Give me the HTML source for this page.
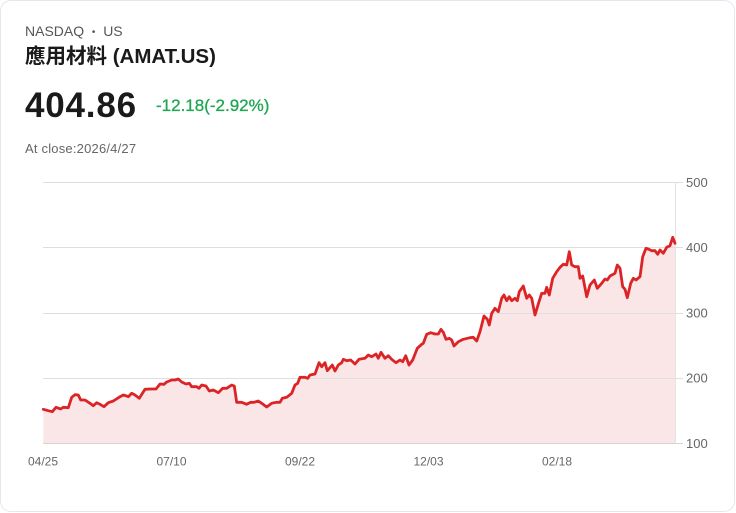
<!DOCTYPE html>
<html><head><meta charset="utf-8">
<style>
html,body{margin:0;padding:0;background:#fff;}
body{width:736px;height:513px;position:relative;overflow:hidden;font-family:"Liberation Sans","Noto Sans CJK TC",sans-serif;}
.card{position:absolute;left:0;top:0;width:733px;height:510px;border:1px solid #e3e8ef;border-radius:11px;background:#fff;}
.t{position:absolute;white-space:nowrap;line-height:1;}
</style></head><body>
<div class="card"></div>
<div class="t" style="left:25px;top:24px;font-size:14px;color:#555;">NASDAQ&nbsp; <span style="font-size:10px;position:relative;top:-1px;">•</span> &nbsp;US</div>
<div class="t" style="left:25px;top:47px;font-size:20.5px;font-weight:bold;color:#1a1a1a;">應用材料 (AMAT.US)</div>
<div class="t" style="left:25px;top:88px;font-size:35px;font-weight:bold;color:#1a1a1a;letter-spacing:0.8px;">404.86</div>
<div class="t" style="left:156px;top:97px;font-size:17px;color:#1ea651;-webkit-text-stroke:0.3px #1ea651;">-12.18(-2.92%)</div>
<div class="t" style="left:25px;top:142px;font-size:13px;color:#666;letter-spacing:0.2px;">At close:2026/4/27</div>
<svg style="position:absolute;left:0;top:0" width="736" height="513" viewBox="0 0 736 513">
<path d="M43.3,409.3 L48.3,410.7 L52.3,411.7 L56,407.3 L60.7,409 L63.3,407.3 L68.3,407.7 L71.7,397.3 L75,394.7 L78.3,395 L80.7,400 L85,400 L90,403.3 L93.3,405.7 L96.7,402.7 L100,404.3 L104,406.7 L108.3,402.7 L113.3,401 L120,396.7 L123.3,395 L126.7,396 L128.3,396.7 L131.7,393.3 L135,395 L139.3,398.3 L145,389.3 L150,389 L156,389 L160,384 L164,384.3 L166.7,382 L171.7,380 L175,380 L178.3,379 L181.7,382 L186,384 L189.3,383.3 L191.7,386.7 L196.7,386.7 L199,388.3 L201.7,385 L206,386 L209.3,391 L213.3,390 L218.3,392.7 L222.7,388.3 L226.7,388.3 L231.7,385 L234.3,386 L236.7,402.3 L241.7,402.3 L246.7,404.3 L250.7,402.3 L254,402.3 L258.3,401 L261.7,403.3 L266.7,407 L271.7,403.3 L276.7,402.3 L280,402.3 L282.3,398.3 L286.7,397.3 L291.7,393.3 L295,385 L297.7,383.3 L300,377.3 L305,377.3 L307.7,378.3 L310,375 L315,374 L319,362.7 L321.7,366.7 L325,362.7 L327.3,370.7 L332.3,365 L335,371 L338.3,365 L341.7,362.7 L343.3,359.3 L346.7,360.7 L350.7,360 L355,364 L359,359.3 L365,358.3 L368.3,355 L371.7,356.7 L376,354 L378.3,358.3 L381,352.3 L385,358.3 L388.3,355.7 L391.7,359.3 L396,362.7 L400,360 L402.7,361.7 L405.7,355.7 L409,365 L412.7,360 L417.3,348.3 L421.7,344.3 L423.3,343.3 L426.7,334.3 L430.7,332.7 L435,334 L438.3,334 L441,329.3 L443.3,332.3 L446,339.3 L449.3,338.3 L451.7,340 L454,346 L458.3,341.7 L463.3,339.3 L470,337.7 L473.3,337.3 L476.7,341 L480,331.7 L484,316 L487.3,319.3 L489.3,325 L491.7,313.3 L495,308.3 L498.3,311.7 L501.7,298.3 L504,295 L506.7,300.7 L509.3,296.7 L511.7,300.7 L515,298.3 L517.3,300.7 L519.3,291.7 L523.3,286 L526.7,298.3 L529.3,295 L531.7,298.3 L535,315 L539,301.7 L541.7,293.3 L545,293.3 L546.7,287.3 L549.3,295 L552.7,278.3 L556.7,271.7 L560,267.3 L563.3,264.3 L566.7,265 L569.3,251.7 L571.7,265 L575,266.7 L578.3,266.7 L580,278.3 L582.7,276 L586.7,296.7 L590,285 L594.3,280 L597.3,288.3 L601.7,283.3 L605,279 L607.3,280 L610,276 L615,273.3 L617.3,265 L620,268.3 L622.7,286.7 L625,289.3 L627.3,297.7 L630.7,283.3 L633.3,278.3 L636,280 L640,276.7 L642.7,256.7 L646,248.3 L648.3,249 L651.7,250.7 L655,250.7 L657.7,254.3 L660,250 L663.3,253.3 L666.7,247.3 L670,245.7 L672.7,237.3 L675,243.3 L675,443.5 L43.3,443.5 Z" fill="#fae6e6" stroke="none"/>
<g stroke="#dedede" stroke-width="1">
<line x1="43" y1="182.5" x2="683" y2="182.5"/>
<line x1="43" y1="247.5" x2="683" y2="247.5"/>
<line x1="43" y1="313.5" x2="683" y2="313.5"/>
<line x1="43" y1="378.5" x2="683" y2="378.5"/>
<line x1="43" y1="443.5" x2="683" y2="443.5" stroke="#d4d4d4"/>
<line x1="675.5" y1="182" x2="675.5" y2="443.5" stroke="#e4e4e4"/>
</g>
<path d="M43.3,409.3 L48.3,410.7 L52.3,411.7 L56,407.3 L60.7,409 L63.3,407.3 L68.3,407.7 L71.7,397.3 L75,394.7 L78.3,395 L80.7,400 L85,400 L90,403.3 L93.3,405.7 L96.7,402.7 L100,404.3 L104,406.7 L108.3,402.7 L113.3,401 L120,396.7 L123.3,395 L126.7,396 L128.3,396.7 L131.7,393.3 L135,395 L139.3,398.3 L145,389.3 L150,389 L156,389 L160,384 L164,384.3 L166.7,382 L171.7,380 L175,380 L178.3,379 L181.7,382 L186,384 L189.3,383.3 L191.7,386.7 L196.7,386.7 L199,388.3 L201.7,385 L206,386 L209.3,391 L213.3,390 L218.3,392.7 L222.7,388.3 L226.7,388.3 L231.7,385 L234.3,386 L236.7,402.3 L241.7,402.3 L246.7,404.3 L250.7,402.3 L254,402.3 L258.3,401 L261.7,403.3 L266.7,407 L271.7,403.3 L276.7,402.3 L280,402.3 L282.3,398.3 L286.7,397.3 L291.7,393.3 L295,385 L297.7,383.3 L300,377.3 L305,377.3 L307.7,378.3 L310,375 L315,374 L319,362.7 L321.7,366.7 L325,362.7 L327.3,370.7 L332.3,365 L335,371 L338.3,365 L341.7,362.7 L343.3,359.3 L346.7,360.7 L350.7,360 L355,364 L359,359.3 L365,358.3 L368.3,355 L371.7,356.7 L376,354 L378.3,358.3 L381,352.3 L385,358.3 L388.3,355.7 L391.7,359.3 L396,362.7 L400,360 L402.7,361.7 L405.7,355.7 L409,365 L412.7,360 L417.3,348.3 L421.7,344.3 L423.3,343.3 L426.7,334.3 L430.7,332.7 L435,334 L438.3,334 L441,329.3 L443.3,332.3 L446,339.3 L449.3,338.3 L451.7,340 L454,346 L458.3,341.7 L463.3,339.3 L470,337.7 L473.3,337.3 L476.7,341 L480,331.7 L484,316 L487.3,319.3 L489.3,325 L491.7,313.3 L495,308.3 L498.3,311.7 L501.7,298.3 L504,295 L506.7,300.7 L509.3,296.7 L511.7,300.7 L515,298.3 L517.3,300.7 L519.3,291.7 L523.3,286 L526.7,298.3 L529.3,295 L531.7,298.3 L535,315 L539,301.7 L541.7,293.3 L545,293.3 L546.7,287.3 L549.3,295 L552.7,278.3 L556.7,271.7 L560,267.3 L563.3,264.3 L566.7,265 L569.3,251.7 L571.7,265 L575,266.7 L578.3,266.7 L580,278.3 L582.7,276 L586.7,296.7 L590,285 L594.3,280 L597.3,288.3 L601.7,283.3 L605,279 L607.3,280 L610,276 L615,273.3 L617.3,265 L620,268.3 L622.7,286.7 L625,289.3 L627.3,297.7 L630.7,283.3 L633.3,278.3 L636,280 L640,276.7 L642.7,256.7 L646,248.3 L648.3,249 L651.7,250.7 L655,250.7 L657.7,254.3 L660,250 L663.3,253.3 L666.7,247.3 L670,245.7 L672.7,237.3 L675,243.3" fill="none" stroke="#dc2426" stroke-width="2.8" stroke-linejoin="round" stroke-linecap="round"/>
<g font-family="Liberation Sans, sans-serif" font-size="13" fill="#666">
<text x="686" y="187">500</text>
<text x="686" y="252">400</text>
<text x="686" y="317.5">300</text>
<text x="686" y="382.5">200</text>
<text x="686" y="448">100</text>
</g>
<g font-family="Liberation Sans, sans-serif" font-size="12" fill="#666" text-anchor="middle">
<text x="43" y="465.5">04/25</text>
<text x="171.5" y="465.5">07/10</text>
<text x="300" y="465.5">09/22</text>
<text x="428.5" y="465.5">12/03</text>
<text x="557" y="465.5">02/18</text>
</g>
</svg>
</body></html>
